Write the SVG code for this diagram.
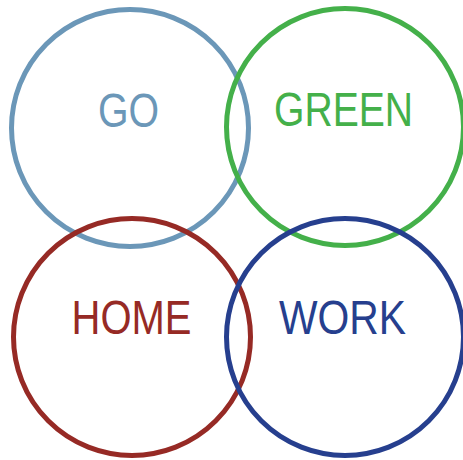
<svg xmlns="http://www.w3.org/2000/svg" width="463" height="460" viewBox="0 0 463 460">
  <style>
    .ring { fill: none; stroke-width: 5; }
    .label { font-family: "Liberation Sans Narrow", "Liberation Sans", Arial, sans-serif; font-size: 48px; text-anchor: middle; }
  </style>
  <rect width="463" height="460" fill="#ffffff"/>
  <g id="go">
    <circle class="ring" cx="130" cy="128" r="118.5" stroke="#6b97b8"/>
    <text class="label" x="128.5" y="127" fill="#6b97b8" textLength="61" lengthAdjust="spacingAndGlyphs">GO</text>
  </g>
  <g id="green">
    <circle class="ring" cx="345" cy="127" r="118.5" stroke="#44b04a"/>
    <text class="label" x="343.5" y="126" fill="#44b04a" textLength="139" lengthAdjust="spacingAndGlyphs">GREEN</text>
  </g>
  <g id="home">
    <circle class="ring" cx="132" cy="337" r="118.5" stroke="#962a25"/>
    <text class="label" x="131.5" y="334" fill="#962a25" textLength="120" lengthAdjust="spacingAndGlyphs">HOME</text>
  </g>
  <g id="work">
    <circle class="ring" cx="345" cy="337" r="118.5" stroke="#263f8e"/>
    <text class="label" x="342.5" y="334" fill="#263f8e" textLength="127" lengthAdjust="spacingAndGlyphs">WORK</text>
  </g>
  <g id="connectors"/>
</svg>
